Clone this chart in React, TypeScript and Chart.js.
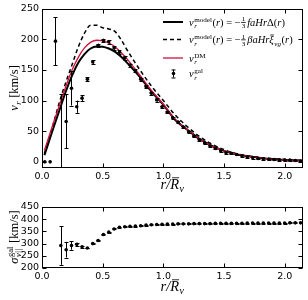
import React, { useEffect, useRef } from "react";
import { Chart, registerables } from "chart.js";
Chart.register(...registerables);

// ---------- data ----------
const rBins = [
  0.023, 0.067, 0.111, 0.155, 0.199, 0.243, 0.286, 0.33, 0.374, 0.418,
  0.462, 0.506, 0.55, 0.594, 0.638, 0.682, 0.725, 0.769, 0.813, 0.857,
  0.901, 0.945, 0.989, 1.033, 1.077, 1.121, 1.164, 1.208, 1.252, 1.296,
  1.34, 1.384, 1.428, 1.472, 1.516, 1.56, 1.603, 1.647, 1.691, 1.735,
  1.779, 1.823, 1.867, 1.911, 1.955, 1.999, 2.042, 2.086, 2.13,
];
const vGal = [
  0, 0, 197, -30, 66, 120, 90, 104, 135, 163,
  190, 198, 196, 186, 179, 170, 158, 149, 135, 123,
  112, 101, 90, 81, 72, 65, 57, 49, 42, 36,
  31, 26, 22, 18, 15, 14, 12, 10, 8, 7,
  5.5, 5, 4.4, 3.9, 3.2, 3.2, 2.8, 2.3, 1.5,
];
const vGalErr = [
  0, 0, 39, 141, 44, 28, 10, 5, 3, 3,
  3, 3, 3, 3, 3, 3, 2.5, 2.5, 2.5, 2.5,
  2.5, 2.5, 2, 2, 2, 2, 2, 2, 2, 1.5,
  1.5, 1.5, 1.5, 1.5, 1.5, 1.5, 1.5, 1.5, 1.5, 1.5,
  1.5, 1.5, 1.5, 1.5, 1.5, 1.5, 1.5, 1.5, 1.5,
];
const sigmaGal = [
  null, null, null, 292, 275, 292, 297, 287, 282, 300,
  313, 337, 347, 360, 367, 369, 371, 372, 373, 376,
  377, 378, 379, 380, 380, 381, 381, 381, 382, 382,
  382, 382, 383, 383, 383, 383, 383, 383, 384, 384,
  384, 384, 384, 384, 384, 384, 385, 385, 385,
];
const sigmaErr = [
  0, 0, 0, 79, 32, 17, 6, 3, 2, 2,
  2, 2, 2, 2, 2, 2, 2, 2, 2, 2,
  2, 2, 2, 2, 2, 2, 2, 2, 2, 2,
  2, 2, 2, 2, 2, 2, 2, 2, 2, 2,
  2, 2, 2, 2, 2, 2, 2, 2, 2,
];

const rCurve = [
  0.02, 0.05, 0.1, 0.15, 0.2, 0.25, 0.3, 0.35, 0.4, 0.45,
  0.5, 0.55, 0.6, 0.65, 0.7, 0.8, 0.9, 1.0, 1.1, 1.2,
  1.3, 1.4, 1.5, 1.6, 1.7, 1.8, 1.9, 2.0, 2.1, 2.15,
];
const vModelDelta = [
  11, 29, 59, 88, 117, 142, 162, 176, 185, 188.5,
  188, 185, 180, 172, 162, 140, 115, 93, 68, 52,
  37, 26, 18, 12.5, 9, 6.5, 4.5, 3.2, 2.3, 2,
];
const vModelXi = [
  14, 32, 67, 102, 132, 160, 188, 210, 223, 223,
  219, 217, 213, 200, 183, 152, 124, 100, 76, 57,
  41, 29, 20, 13.5, 9.5, 7, 5, 3.5, 2.5, 2,
];
const vDM = [
  19, 37, 67, 96, 125, 151, 171, 186, 195, 198.5,
  198, 194, 188, 179, 168, 143, 117, 94, 69, 52,
  37, 26, 18, 12.5, 9, 6.5, 4.5, 3.2, 2.3, 2,
];

const xTicks = [0, 0.5, 1.0, 1.5, 2.0];
const yTicksTop = [0, 50, 100, 150, 200, 250];
const yTicksBottom = [200, 250, 300, 350, 400, 450];

// ---------- styling ----------
const TICK_FONT = "'DejaVu Sans', sans-serif";
const MATH_FONT = "'Liberation Serif', serif";
const RED = "#d0103a";

type Seg = {
  t?: string;
  it?: boolean;
  sup?: string;
  sub?: string;
  supIt?: boolean;
  frac?: [string, string];
  bar?: boolean;
};

function layoutMath(ctx: CanvasRenderingContext2D, segs: Seg[], x: number, y: number, size: number, draw: boolean) {
  let cx = x;
  const small = size * 0.68;
  ctx.textAlign = "left";
  ctx.textBaseline = "alphabetic";
  for (const s of segs) {
    if (s.frac) {
      ctx.font = `${small}px ${MATH_FONT}`;
      const w1 = ctx.measureText(s.frac[0]).width;
      const w2 = ctx.measureText(s.frac[1]).width;
      const w = Math.max(w1, w2) + 2;
      if (draw) {
        const ly = y - size * 0.3;
        ctx.fillText(s.frac[0], cx + 1 + (w - 2 - w1) / 2, ly - 1.2);
        ctx.fillText(s.frac[1], cx + 1 + (w - 2 - w2) / 2, ly + small * 0.72 + 1);
        ctx.fillRect(cx + 0.5, ly - 0.4, w - 1, 0.8);
      }
      cx += w + 1;
      continue;
    }
    if (s.t) {
      ctx.font = `${s.it ? "italic " : ""}${size}px ${MATH_FONT}`;
      const w = ctx.measureText(s.t).width;
      if (draw) {
        ctx.fillText(s.t, cx, y);
        if (s.bar) ctx.fillRect(cx + w * 0.2, y - size * 0.8, w * 0.8, 0.8);
      }
      cx += w;
    }
    let ws = 0;
    if (s.sup) {
      ctx.font = `${s.supIt ? "italic " : ""}${small}px ${MATH_FONT}`;
      const w = ctx.measureText(s.sup).width;
      if (draw) ctx.fillText(s.sup, cx + 0.5, y - size * 0.38);
      ws = Math.max(ws, w);
    }
    if (s.sub) {
      ctx.font = `italic ${small}px ${MATH_FONT}`;
      const w = ctx.measureText(s.sub).width;
      if (draw) ctx.fillText(s.sub, cx + 0.5, y + size * 0.24);
      ws = Math.max(ws, w);
    }
    if (ws) cx += ws + 1;
  }
  return cx - x;
}

function drawMath(ctx: CanvasRenderingContext2D, segs: Seg[], x: number, y: number, size: number, align: "left" | "center") {
  const w = layoutMath(ctx, segs, 0, 0, size, false);
  const sx = align === "center" ? x - w / 2 : x;
  layoutMath(ctx, segs, sx, y, size, true);
}

const xLabel: Seg[] = [{ t: "r/", it: true }, { t: "R", it: true, bar: true, sub: "v" }];
const yLabelTop: Seg[] = [{ t: "v", it: true, sub: "r" }, { t: " [km/s]" }];
const yLabelBottom: Seg[] = [{ t: "σ", it: true, sup: "gal", sub: "v||" }, { t: " [km/s]" }];

const legendRows: { segs: Seg[]; kind: string; y: number }[] = [
  {
    kind: "solid",
    y: 22,
    segs: [
      { t: "v", it: true, sup: "model", sub: "r" },
      { t: "(" }, { t: "r", it: true }, { t: ") = −" },
      { frac: ["1", "3"] },
      { t: "faHr", it: true }, { t: "Δ(" }, { t: "r", it: true }, { t: ")" },
    ],
  },
  {
    kind: "dashed",
    y: 39.5,
    segs: [
      { t: "v", it: true, sup: "model", sub: "r" },
      { t: "(" }, { t: "r", it: true }, { t: ") = −" },
      { frac: ["1", "3"] },
      { t: "βaHr", it: true }, { t: "ξ", it: true, bar: true, sub: "vg" }, { t: "(" }, { t: "r", it: true }, { t: ")" },
    ],
  },
  { kind: "red", y: 58, segs: [{ t: "v", it: true, sup: "DM", sub: "r" }] },
  { kind: "err", y: 73.5, segs: [{ t: "v", it: true, sup: "gal", sub: "r" }] },
];

function makeChart(
  canvas: HTMLCanvasElement,
  opts: {
    datasets: any[];
    yMin: number;
    yMax: number;
    yTicks: number[];
    padTop: number;
    xAxisH: number;
    errY: (number | null)[];
    errV: number[];
    yLabel: Seg[];
    yLabelY: number;
    xLabelY: number;
    legend: boolean;
  }
) {
  const framePlugin = {
    id: "frameTicks",
    afterDatasetsDraw(chart: any) {
      const { ctx, chartArea: ca, scales } = chart;
      const xs = scales.x, ys = scales.y;
      ctx.save();
      ctx.beginPath();
      ctx.rect(ca.left, ca.top, ca.right - ca.left, ca.bottom - ca.top);
      ctx.clip();
      ctx.strokeStyle = "#000";
      ctx.fillStyle = "#000";
      ctx.lineWidth = 1;
      for (let i = 0; i < rBins.length; i++) {
        const v = opts.errY[i];
        if (v === null || v === undefined) continue;
        const e = opts.errV[i];
        if (!e) continue;
        const px = Math.round(xs.getPixelForValue(rBins[i])) + 0.5;
        const y1 = ys.getPixelForValue(v - e);
        const y2 = ys.getPixelForValue(v + e);
        ctx.beginPath();
        ctx.moveTo(px, y1);
        ctx.lineTo(px, y2);
        ctx.moveTo(px - 2, Math.round(y1) + 0.5);
        ctx.lineTo(px + 2, Math.round(y1) + 0.5);
        ctx.moveTo(px - 2, Math.round(y2) + 0.5);
        ctx.lineTo(px + 2, Math.round(y2) + 0.5);
        ctx.stroke();
      }
      ctx.restore();
    },
    afterDraw(chart: any) {
      const { ctx, chartArea: ca, scales } = chart;
      const xs = scales.x, ys = scales.y;
      ctx.save();
      ctx.strokeStyle = "#000";
      ctx.fillStyle = "#000";
      ctx.lineWidth = 1;
      const L = Math.round(ca.left) + 0.5, R = Math.round(ca.right) - 0.5;
      const T = Math.round(ca.top) + 0.5, B = Math.round(ca.bottom) - 0.5;
      ctx.strokeRect(L, T, R - L, B - T);
      ctx.beginPath();
      for (const t of xTicks) {
        const px = Math.round(xs.getPixelForValue(t)) + 0.5;
        ctx.moveTo(px, B); ctx.lineTo(px, B - 4);
        ctx.moveTo(px, T); ctx.lineTo(px, T + 4);
      }
      for (const t of opts.yTicks) {
        const py = Math.round(ys.getPixelForValue(t)) + 0.5;
        ctx.moveTo(L, py); ctx.lineTo(L + 4, py);
        ctx.moveTo(R, py); ctx.lineTo(R - 4, py);
      }
      ctx.stroke();

      // axis titles
      drawMath(ctx, xLabel, (ca.left + ca.right) / 2, opts.xLabelY, 14.5, "center");
      ctx.save();
      ctx.translate(18, opts.yLabelY);
      ctx.rotate(-Math.PI / 2);
      drawMath(ctx, opts.yLabel, 0, 0, 12.5, "center");
      ctx.restore();

      if (opts.legend) {
        for (const row of legendRows) {
          ctx.save();
          if (row.kind === "solid" || row.kind === "dashed" || row.kind === "red") {
            ctx.beginPath();
            ctx.strokeStyle = row.kind === "red" ? RED : "#000";
            ctx.lineWidth = row.kind === "solid" ? 2 : row.kind === "red" ? 1.3 : 1.5;
            if (row.kind === "dashed") ctx.setLineDash([4, 3]);
            ctx.moveTo(163, row.y);
            ctx.lineTo(183, row.y);
            ctx.stroke();
          } else {
            ctx.beginPath();
            ctx.moveTo(173.5, row.y - 4);
            ctx.lineTo(173.5, row.y + 4);
            ctx.moveTo(171.5, row.y - 3.5); ctx.lineTo(175.5, row.y - 3.5);
            ctx.moveTo(171.5, row.y + 4.5); ctx.lineTo(175.5, row.y + 4.5);
            ctx.stroke();
            ctx.beginPath();
            ctx.arc(173.5, row.y, 1.8, 0, Math.PI * 2);
            ctx.fill();
          }
          ctx.restore();
          drawMath(ctx, row.segs, 189, row.y + 3.5, 10.5, "left");
        }
      }
      ctx.restore();
    },
  };

  return new Chart(canvas, {
    type: "scatter",
    data: { datasets: opts.datasets },
    options: {
      animation: false,
      responsive: false,
      maintainAspectRatio: false,
      devicePixelRatio: 1,
      layout: { padding: { left: 0, right: 5, top: opts.padTop, bottom: 0 } },
      plugins: { legend: { display: false }, tooltip: { enabled: false } },
      scales: {
        x: {
          type: "linear",
          min: 0,
          max: 2.15,
          afterBuildTicks: (s: any) => {
            s.ticks = xTicks.map((v) => ({ value: v }));
          },
          afterFit: (s: any) => {
            s.height = opts.xAxisH;
          },
          ticks: {
            callback: (v: any) => Number(v).toFixed(1),
            font: { family: TICK_FONT, size: 9.5 },
            color: "#000",
            maxRotation: 0,
            padding: 3,
            autoSkip: false,
          },
          grid: { display: false, drawTicks: false },
          border: { display: false },
        },
        y: {
          type: "linear",
          min: opts.yMin,
          max: opts.yMax,
          afterBuildTicks: (s: any) => {
            s.ticks = opts.yTicks.map((v) => ({ value: v }));
          },
          afterFit: (s: any) => {
            s.width = 42;
          },
          ticks: {
            callback: (v: any) => String(v),
            font: { family: TICK_FONT, size: 9.5 },
            color: "#000",
            padding: 3,
            autoSkip: false,
          },
          grid: { display: false, drawTicks: false },
          border: { display: false },
        },
      },
    } as any,
    plugins: [framePlugin as any],
  });
}

export default function App() {
  const topRef = useRef<HTMLCanvasElement>(null);
  const botRef = useRef<HTMLCanvasElement>(null);

  useEffect(() => {
    const curve = (vals: number[]) => rCurve.map((r, i) => ({ x: r, y: vals[i] }));
    const line = (vals: number[], color: string, width: number, order: number, dash?: number[]) => ({
      type: "line",
      data: curve(vals),
      borderColor: color,
      borderWidth: width,
      borderDash: dash || [],
      pointRadius: 0,
      showLine: true,
      fill: false,
      cubicInterpolationMode: "monotone",
      order,
    });
    const top = makeChart(topRef.current!, {
      datasets: [
        {
          type: "scatter",
          data: rBins.map((r, i) => ({ x: r, y: vGal[i] })),
          pointRadius: 1.8,
          backgroundColor: "#000",
          borderWidth: 0,
          order: 0,
        },
        line(vDM, RED, 1.3, 1),
        line(vModelXi, "#000", 1.5, 2, [4, 3]),
        line(vModelDelta, "#000", 2, 3),
      ],
      yMin: -10,
      yMax: 250,
      yTicks: yTicksTop,
      padTop: 7,
      xAxisH: 30,
      errY: vGal,
      errV: vGalErr,
      yLabel: yLabelTop,
      yLabelY: 88,
      xLabelY: 189,
      legend: true,
    });
    const bot = makeChart(botRef.current!, {
      datasets: [
        {
          type: "scatter",
          data: rBins
            .map((r, i) => ({ x: r, y: sigmaGal[i] }))
            .filter((p) => p.y !== null),
          pointRadius: 1.8,
          backgroundColor: "#000",
          borderWidth: 0,
        },
      ],
      yMin: 200,
      yMax: 450,
      yTicks: yTicksBottom,
      padTop: 9,
      xAxisH: 32,
      errY: sigmaGal,
      errV: sigmaErr,
      yLabel: yLabelBottom,
      yLabelY: 39,
      xLabelY: 93,
      legend: false,
    });
    return () => {
      top.destroy();
      bot.destroy();
    };
  }, []);

  return (
    <div style={{ position: "absolute", left: 0, top: 0, width: 308, height: 300, background: "#fff" }}>
      <canvas ref={topRef} width={308} height={198} style={{ position: "absolute", left: 0, top: 0, width: 308, height: 198 }} />
      <canvas ref={botRef} width={308} height={102} style={{ position: "absolute", left: 0, top: 198, width: 308, height: 102 }} />
    </div>
  );
}
